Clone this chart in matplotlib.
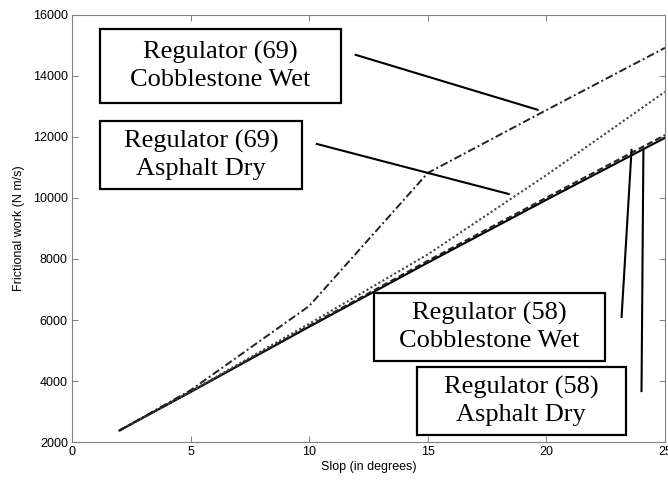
import matplotlib
matplotlib.use("Agg")
import matplotlib.pyplot as plt
from matplotlib.patches import Rectangle

# data
slope = [2, 5, 10, 15, 20, 25]
reg58_asphalt_dry = [2380, 3640, 5780, 7880, 9940, 11970]
reg58_cobble_wet = [2380, 3650, 5810, 7940, 10010, 12060]
reg69_asphalt_dry = [2380, 3660, 5880, 8150, 10750, 13480]
reg69_cobble_wet = [2380, 3700, 6460, 10820, 12880, 14920]

box_labels = [
    "Regulator (69)\nCobblestone Wet",
    "Regulator (69)\nAsphalt Dry",
    "Regulator (58)\nCobblestone Wet",
    "Regulator (58)\nAsphalt Dry",
]

fig = plt.figure(figsize=(6.68, 4.8), dpi=100)
ax = fig.add_axes([0.1078, 0.079, 0.8877, 0.890])

ax.plot(slope, reg58_asphalt_dry, color="black", lw=1.5, ls="-")
ax.plot(slope, reg58_cobble_wet, color="#222222", lw=1.5, ls=(0, (3, 1.5)))
ax.plot(slope, reg69_asphalt_dry, color="#444444", lw=1.5, ls=(0, (1, 1.2)))
ax.plot(slope, reg69_cobble_wet, color="#222222", lw=1.4, ls=(0, (4, 1.5, 1, 1.5)))

ax.set_xlim(0, 25)
ax.set_ylim(2000, 16000)
ax.set_xticks([0, 5, 10, 15, 20, 25])
ax.set_yticks(range(2000, 16001, 2000))

tick_font = {"family": "Liberation Sans", "size": 9}
ax.set_xticklabels([str(v) for v in [0, 5, 10, 15, 20, 25]], **tick_font)
ax.set_yticklabels([str(v) for v in range(2000, 16001, 2000)], **tick_font)
ax.tick_params(direction="in", top=True, right=True, length=4, width=0.7,
               color="#808080", pad=3)
for s in ax.spines.values():
    s.set_color("#808080")
    s.set_linewidth(0.8)

ax.set_xlabel("Slop (in degrees)", fontfamily="Liberation Sans", fontsize=9, labelpad=2)
ax.set_ylabel("Frictional work (N m/s)", fontfamily="Liberation Sans", fontsize=9, labelpad=6)

# annotation boxes (x0, x1, y0, y1 in data coords)
boxes = [
    (1.18, 11.33, 13116, 15542),
    (1.18, 9.69, 10296, 12526),
    (12.72, 22.49, 4656, 6886),
    (14.53, 23.34, 2230, 4459),
]
for (x0, x1, y0, y1), label in zip(boxes, box_labels):
    ax.add_patch(Rectangle((x0, y0), x1 - x0, y1 - y0, fill=False,
                           edgecolor="black", lw=1.6, zorder=3))
    ax.text((x0 + x1) / 2, (y0 + y1) / 2, label, ha="center", va="center",
            fontfamily="Liberation Serif", fontsize=19, linespacing=1.28, zorder=4)

# pointer lines
pointers = [
    ((11.96, 19.63), (14690, 12890)),
    ((10.32, 18.41), (11770, 10130)),
    ((23.59, 23.17), (11575, 6100)),
    ((24.09, 24.01), (11575, 3670)),
]
for xs, ys in pointers:
    ax.plot(xs, ys, color="black", lw=1.5, zorder=3)

fig.savefig("out.png", dpi=100)
